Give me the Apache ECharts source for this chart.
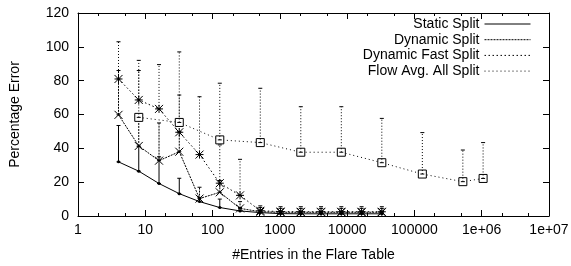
<!DOCTYPE html>
<html>
<head>
<meta charset="utf-8">
<script src="https://cdn.jsdelivr.net/npm/echarts@6/dist/echarts.min.js"></script>
<style>html,body{margin:0;padding:0;background:#fff}#c{width:571px;height:266px}</style>
</head>
<body>
<div id="c"></div>
<script>
// ---- data ----
const xSmall = [4, 8, 16, 32, 64, 128, 256, 512, 1024, 2048, 4096, 8192, 16384, 32768];
const staticY    = [32, 26.5, 19.2, 13.2, 8.5, 5, 3, 2, 1.4, 1.3, 1.3, 1.3, 1.3, 1.3];
const staticTop  = [53.5, 41, 35, 22.3, 11, 10, 5, 3.5, 2.5, 2.5, 2.5, 2.5, 2.5, 2.5];
const dynY       = [59.8, 41.4, 32.7, 38, 10.3, 14, 4.5, 2.5, 2.2, 2.2, 2.2, 2.2, 2.2, 2.2];
const dynTop     = [86, 60, 55, 50, 17, 21, 8.5, 5, 4.5, 4.5, 4.5, 4.5, 4.5, 4.5];
const fastY      = [81, 68.6, 63.3, 49.5, 36.3, 19.4, 12.2, 3.1, 2.6, 2.5, 2.5, 2.5, 2.5, 2.5];
const fastTop    = [103, 92, 89.5, 71.5, 70.5, 42, 33.5, 6, 5.5, 5.5, 5.5, 5.5, 5.5, 5.5];
const xFlow      = [8, 32, 128, 512, 2048, 8192, 32768, 131072, 524288, 1048576];
const flowY      = [58.3, 55.3, 45, 43.4, 37.7, 37.7, 31.5, 24.8, 20.3, 22.2];
const flowTop    = [86, 97, 78.5, 75.5, 64.6, 64.6, 57.7, 49.3, 39, 43.4];
const seriesNames = ['Static Split', 'Dynamic Split', 'Dynamic Fast Split', 'Flow Avg. All Split'];
const xMajorTicks = [1, 10, 100, 1000, 10000, 100000, 1000000, 10000000];
const xTickLabels = ['1', '10', '100', '1000', '10000', '100000', '1e+06', '1e+07'];
const xMinorTicks = [2, 5, 20, 50, 200, 500, 2000, 5000, 20000, 50000, 200000, 500000, 2000000, 5000000];
const yTicks = [0, 20, 40, 60, 80, 100, 120];

const FONT = 'Liberation Sans, Arial, Helvetica, sans-serif';
const pair = (xs, ys) => xs.map((x, i) => [x, ys[i]]);
const triple = (xs, ys, ts) => xs.map((x, i) => [x, ys[i], ts[i]]);

function errBar(dash) {
  return function (params, api) {
    const p0 = api.coord([api.value(0), api.value(1)]);
    const p1 = api.coord([api.value(0), api.value(2)]);
    const cap = 2;
    return {
      type: 'group',
      children: [
        { type: 'line', shape: { x1: p0[0], y1: p0[1], x2: p1[0], y2: p1[1] },
          style: { stroke: '#000', lineWidth: 1, lineDash: dash } },
        { type: 'line', shape: { x1: p1[0] - cap, y1: p1[1], x2: p1[0] + cap, y2: p1[1] },
          style: { stroke: '#000', lineWidth: 1 } },
        { type: 'line', shape: { x1: p0[0] - cap, y1: p0[1], x2: p0[0] + cap, y2: p0[1] },
          style: { stroke: '#000', lineWidth: 1 } }
      ]
    };
  };
}

const X_PATH = 'path://M0,0L8,8M8,0L0,8';
const STAR_PATH = 'path://M0,0L8,8M8,0L0,8M4,0L4,8M0,4L8,4';
const SQ_PATH = 'path://M0,0L8,0L8,8L0,8Z';

const dashStatic = null, dashDyn = [2, 1], dashFast = [1.5, 2.5], dashFlow = [1, 3];

function xAxisBase(pos, minor) {
  return {
    type: 'log', logBase: 10, min: 1, max: 10000000, position: pos, splitNumber: 7,
    axisLine: { show: !minor, lineStyle: { color: '#000', width: 1 } },
    axisTick: { show: true, inside: true, length: minor ? 3 : 6,
      customValues: minor ? xMinorTicks : xMajorTicks, lineStyle: { color: '#000' } },
    axisLabel: { show: false },
    splitLine: { show: false }
  };
}

const bottomMajor = xAxisBase('bottom', false);
bottomMajor.axisLabel = {
  show: true, customValues: xMajorTicks, fontSize: 14, color: '#000', fontFamily: FONT, margin: 7,
  formatter: v => xTickLabels[Math.round(Math.log10(v))]
};
bottomMajor.name = '#Entries in the Flare Table';
bottomMajor.nameLocation = 'middle';
bottomMajor.nameGap = 32;
bottomMajor.nameTextStyle = { fontSize: 14, color: '#000', fontFamily: FONT };

const option = {
  animation: false,
  backgroundColor: '#fff',
  grid: { left: 78, right: 22, top: 13, bottom: 50, containLabel: false, outerBoundsMode: 'none' },
  xAxis: [bottomMajor, xAxisBase('bottom', true), xAxisBase('top', false), xAxisBase('top', true)],
  yAxis: [
    { type: 'value', min: 0, max: 120, interval: 20, position: 'left',
      axisLine: { show: true, lineStyle: { color: '#000' } },
      axisTick: { show: true, inside: true, length: 6, lineStyle: { color: '#000' } },
      axisLabel: { fontSize: 14, color: '#000', fontFamily: FONT, margin: 9,
        formatter: v => String(yTicks[yTicks.indexOf(v)]) },
      splitLine: { show: false },
      name: 'Percentage Error', nameLocation: 'middle', nameGap: 56, nameRotate: 90,
      nameTextStyle: { fontSize: 14, color: '#000', fontFamily: FONT } },
    { type: 'value', min: 0, max: 120, interval: 20, position: 'right',
      axisLine: { show: true, lineStyle: { color: '#000' } },
      axisTick: { show: true, inside: true, length: 6, lineStyle: { color: '#000' } },
      axisLabel: { show: false }, splitLine: { show: false } }
  ],
  legend: {
    data: seriesNames, orient: 'vertical', right: 35, top: 12, align: 'right',
    itemWidth: 46, itemHeight: 14, itemGap: 1.7,
    textStyle: { fontSize: 14, color: '#000', fontFamily: FONT },
    itemStyle: { opacity: 0 },
    lineStyle: { width: 1 }
  },
  series: [
    { type: 'custom', name: 'eb0', xAxisIndex: 0, yAxisIndex: 0, renderItem: errBar(dashStatic),
      data: triple(xSmall, staticY, staticTop), encode: { x: 0, y: [1, 2] }, z: 1, silent: true },
    { type: 'custom', name: 'eb1', xAxisIndex: 0, yAxisIndex: 0, renderItem: errBar(dashDyn),
      data: triple(xSmall, dynY, dynTop), encode: { x: 0, y: [1, 2] }, z: 1, silent: true },
    { type: 'custom', name: 'eb2', xAxisIndex: 0, yAxisIndex: 0, renderItem: errBar([1, 2]),
      data: triple(xSmall, fastY, fastTop), encode: { x: 0, y: [1, 2] }, z: 1, silent: true },
    { type: 'custom', name: 'eb3', xAxisIndex: 0, yAxisIndex: 0, renderItem: errBar([1, 2]),
      data: triple(xFlow, flowY, flowTop), encode: { x: 0, y: [1, 2] }, z: 4, silent: true },
    { type: 'line', name: seriesNames[0], data: pair(xSmall, staticY), z: 3,
      symbol: 'circle', symbolSize: 3, showAllSymbol: true,
      itemStyle: { color: '#000' }, lineStyle: { color: '#000', width: 1, type: 'solid' } },
    { type: 'line', name: seriesNames[1], data: pair(xSmall, dynY), z: 3,
      symbol: X_PATH, symbolSize: 8, showAllSymbol: true,
      itemStyle: { color: 'transparent', borderColor: '#000', borderWidth: 1 },
      lineStyle: { color: '#000', width: 1, type: dashDyn } },
    { type: 'line', name: seriesNames[2], data: pair(xSmall, fastY), z: 3,
      symbol: STAR_PATH, symbolSize: 8, showAllSymbol: true,
      itemStyle: { color: 'transparent', borderColor: '#000', borderWidth: 1 },
      lineStyle: { color: '#000', width: 1, type: dashFast } },
    { type: 'line', name: seriesNames[3], data: pair(xFlow, flowY), z: 3,
      symbol: SQ_PATH, symbolSize: 8, showAllSymbol: true,
      itemStyle: { color: '#fff', borderColor: '#000', borderWidth: 1 },
      lineStyle: { color: '#000', width: 1, type: dashFlow } }
  ]
};

const chart = echarts.init(document.getElementById('c'), null, { renderer: 'canvas' });
chart.setOption(option);
</script>
</body>
</html>
